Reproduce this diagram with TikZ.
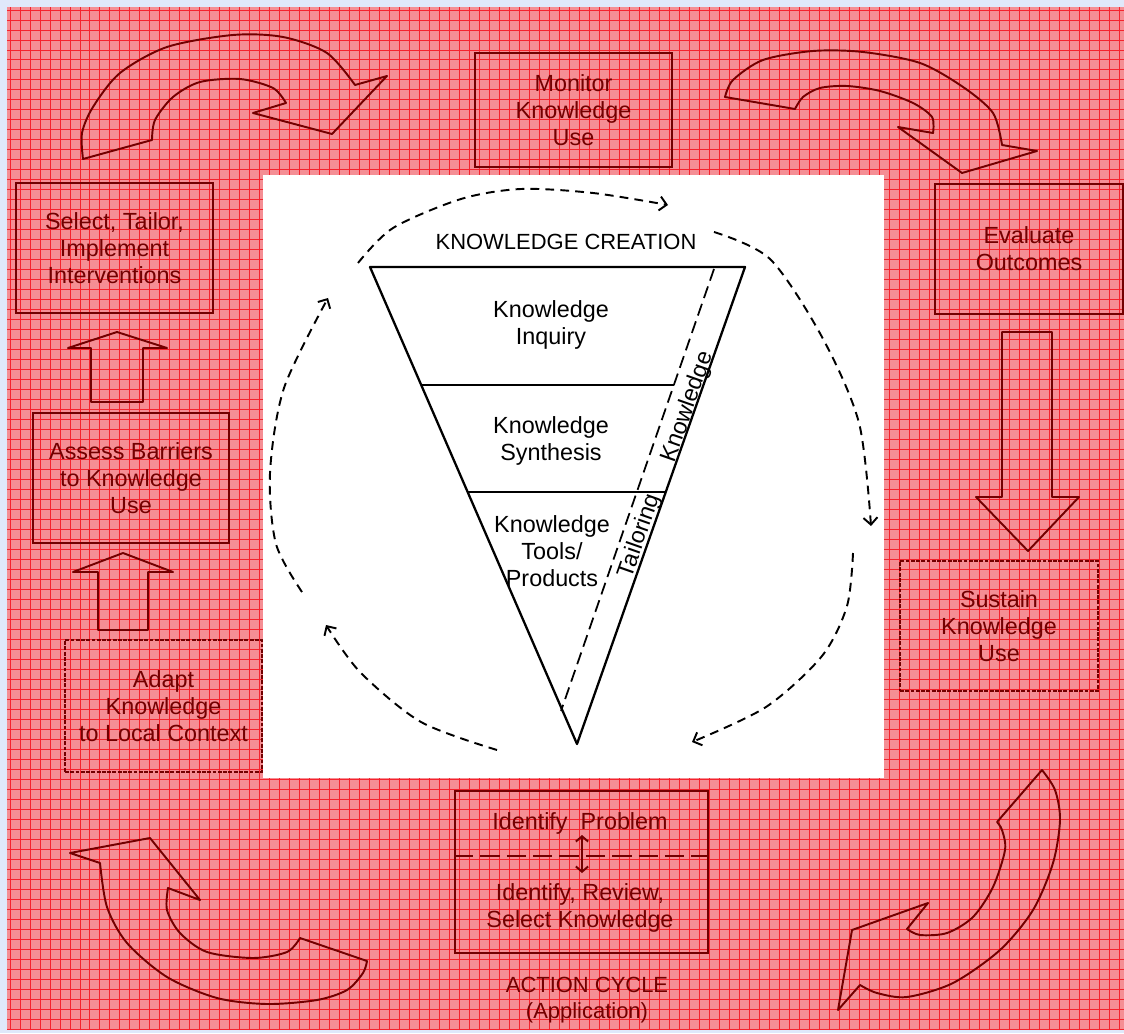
\documentclass[tikz,border=0pt]{standalone}
\usepackage{fontspec}
\setmainfont{Liberation Sans}
\usepackage{tikz}
\usetikzlibrary{arrows.meta,calc}
\definecolor{lav}{RGB}{224,232,250}
\definecolor{salmon}{RGB}{245,142,148}
\definecolor{gridred}{RGB}{245,35,45}
\definecolor{maroon}{RGB}{115,0,0}
\def\bodyfont{\fontsize{13.3}{15.2}\selectfont}
\def\capsfont{\fontsize{12.5}{14.8}\selectfont}

\begin{document}
\begin{tikzpicture}[x=0.02cm,y=-0.02cm,
    redbox/.style={draw=maroon,line width=1.1pt,text=maroon,align=center,font=\bodyfont},
    softbox/.style={redbox,dash pattern=on 2.2pt off 0.8pt},
    blockarr/.style={draw=maroon,line width=1.1pt,line join=round},
    tri/.style={line width=1.3pt,line join=round},
    inner/.style={align=center,font=\bodyfont},
    cyc/.style={dash pattern=on 5pt off 3.5pt,line width=1.1pt,-{Straight Barb[length=4pt,width=8pt]}}]
     \useasboundingbox (0,0) rectangle (1124,1033);
     % backdrop
     \fill[lav] (0,0) rectangle (1124,1033);
     \fill[salmon] (7,7) rectangle (1124,1030);
     \draw[gridred,line width=0.55pt,step=0.2cm] (7,7) grid (1124,1030);
     \fill[white] (263,175) rectangle (884,778);

     % knowledge creation funnel
     \coordinate (tl) at (370,267);
     \coordinate (tr) at (745,267);
     \coordinate (apex) at (577,744);
     \draw[tri] (tl) -- (tr) -- (apex) -- cycle;
     \draw[tri] (421,385) -- (674,385);
     \draw[tri] (467.6,492) -- (665.8,492);
     \draw[line width=1pt,dash pattern=on 7pt off 3.5pt] (714,269) -- (561,711);
     \node[font=\capsfont] (kcreate) at (566,242) {KNOWLEDGE CREATION};
     \node[inner] (inquiry) at (551,325) {Knowledge\\Inquiry};
     \node[inner] (synth) at (551,441) {Knowledge\\Synthesis};
     \node[inner] (tools) at (552,551) {Knowledge\\Tools/\\Products};
     \node[font=\bodyfont,rotate=70.6,inner sep=0pt] (kband) at (688,407) {Knowledge};
     \node[font=\bodyfont,rotate=70.6,inner sep=0pt] (tband) at (640,536) {Tailoring};

     % dashed cycle round the funnel
     \draw[cyc] plot[smooth] coordinates {(358,263) (393,228) (461,199) (521,189) (593,193) (668,205)};
     \draw[cyc] plot[smooth] coordinates {(714,232) (770,259) (822,337) (859,423) (871,526)};
     \draw[cyc] plot[smooth] coordinates {(853,553) (847,606) (822,656) (766,707) (692,742)};
     \draw[cyc] plot[smooth] coordinates {(497,750) (421,722) (360,672) (326,625)};
     \draw[cyc] plot[smooth] coordinates {(302,592) (276,544) (270,473) (284,388) (328,298)};

     % action cycle boxes
     \node[redbox,minimum width=3.94cm,minimum height=2.6cm] (select) at (114.5,248) {Select, Tailor,\\Implement\\Interventions};
     \node[redbox,minimum width=3.94cm,minimum height=2.28cm] (monitor) at (573.5,110) {Monitor\\Knowledge\\Use};
     \node[redbox,minimum width=3.76cm,minimum height=2.6cm] (evaluate) at (1029,249) {Evaluate\\Outcomes};
     \node[softbox,minimum width=3.96cm,minimum height=2.6cm] (sustain) at (999,626) {Sustain\\Knowledge\\Use};
     \node[redbox,minimum width=3.92cm,minimum height=2.6cm] (assess) at (131,478) {Assess Barriers\\to Knowledge\\Use};
     \node[softbox,minimum width=3.94cm,minimum height=2.64cm] (adapt) at (163.5,706) {Adapt\\Knowledge\\to Local Context};
     \node[redbox,minimum width=5.06cm,minimum height=3.24cm] (action) at (581.5,872) {};
     \node[font=\bodyfont,text=maroon] (problem) at (580,823) {Identify\ \ Problem};
     \node[font=\bodyfont,text=maroon,align=center] (review) at (580,908) {Identify, Review,\\Select Knowledge};
     \draw[maroon,line width=1.6pt,dash pattern=on 11pt off 4pt] (action.west|-0,856) -- (action.east|-0,856);
     \draw[maroon,line width=1.1pt,{Straight Barb[length=3pt,width=7pt]}-{Straight Barb[length=3pt,width=7pt]}] (582,835) -- (582,873);
     \node[font=\capsfont,text=maroon,align=center] (cycle) at (587,1000) {ACTION CYCLE\\(Application)};

     % straight block arrows
     \draw[blockarr] (98,630) -- (98,572) -- (73,572) -- (123,553) -- (173,572) -- (148,572) -- (148,630) -- cycle;
     \draw[blockarr] (91,402) -- (91,348) -- (68,348) -- (117,332) -- (167,348) -- (143,348) -- (143,402) -- cycle;
     \draw[blockarr] (1002,332) -- (1002,497) -- (976,497) -- (1028,551) -- (1079,497) -- (1052,497) -- (1052,332) -- cycle;

     % curved block arrows
     \draw[blockarr] plot[smooth] coordinates {(83,159) (82,133) (93,107) (120,73) (167,47) (233,35) (283,37) (327,53) (355,85)}
        -- (387,76) -- (332,134) -- (253,113) -- (286,103)
        -- plot[smooth] coordinates {(286,103) (273,88) (240,79) (200,82) (173,97) (155,120) (152,140)} -- cycle;
     \draw[blockarr] plot[smooth] coordinates {(725,97) (733,80) (763,60) (813,51) (863,52) (920,63) (963,87) (993,113) (1002,145)}
        -- (1037,151) -- (962,173) -- (898,127) -- (933,133)
        -- plot[smooth] coordinates {(933,133) (932,117) (913,103) (880,91) (847,86) (820,88) (803,97) (795,109)} -- cycle;
     \draw[blockarr] plot[smooth] coordinates {(1042,770) (1055,790) (1060,820) (1053,863) (1033,910) (1000,950) (953,983) (907,997) (877,993) (860,985)}
        -- (838,1010) -- (852,930) -- (928,903) -- (907,929)
        -- plot[smooth] coordinates {(907,929) (920,935) (947,933) (973,917) (993,887) (1005,850) (1002,830) (997,822)} -- cycle;
     \draw[blockarr] plot[smooth] coordinates {(367,961) (363,973) (347,990) (317,1000) (267,1004) (217,998) (167,977) (127,943) (107,907) (100,863)}
        -- (70,853) -- (150,838) -- (200,900) -- (168,888)
        -- plot[smooth] coordinates {(168,888) (167,910) (180,933) (207,952) (253,958) (287,952) (300,938)} -- cycle;
\end{tikzpicture}
\end{document}
